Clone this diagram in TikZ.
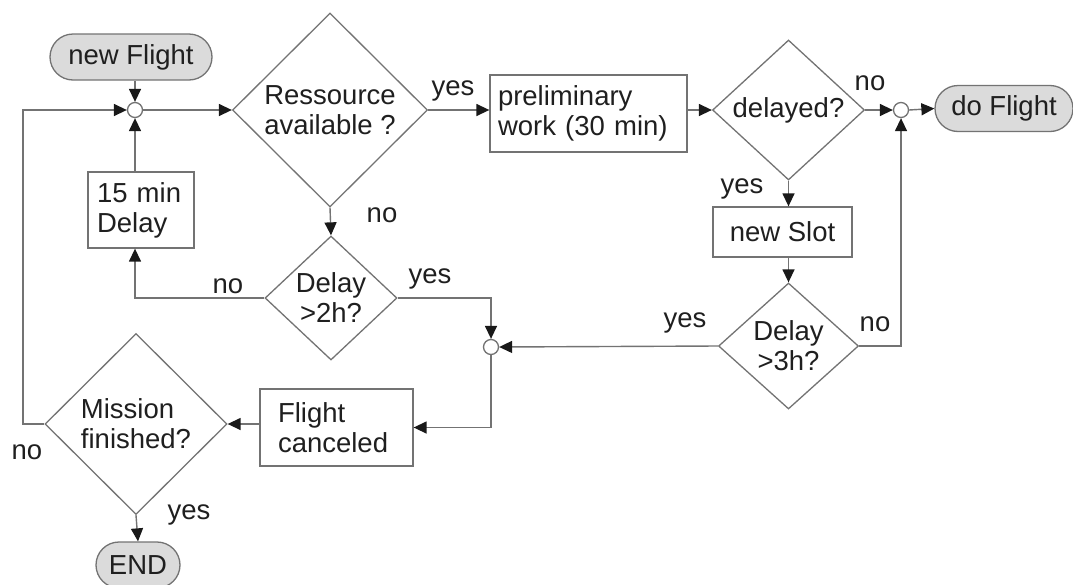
\documentclass[tikz,border=0pt]{standalone}
\usepackage{fontspec}
\setmainfont{Liberation Sans}
\usetikzlibrary{shapes.geometric,arrows.meta,calc}

\begin{document}
\begin{tikzpicture}[x=1pt,y=-1pt,
  font=\fontsize{27.5}{30}\selectfont,
  every node/.style={text=black!88},
  every label/.style={text=black!88},
  line/.style={draw=black!55, line width=1.4pt},
  flow/.style={line, -{Triangle[length=13pt,width=12pt,color=black!90]}},
  box/.style={rectangle, draw=black!55, line width=1.3pt, fill=white, inner sep=0pt},
  term/.style={rectangle, rounded corners=23pt, draw=black!55, line width=1.3pt, fill=black!14, inner sep=0pt},
  dia/.style={diamond, draw=black!55, line width=1.3pt, fill=white, inner sep=0pt},
  jn/.style={circle, draw=black!55, line width=1.3pt, fill=white, inner sep=0pt, minimum size=15pt},
  lbl/.style={anchor=base}]

% canvas
\useasboundingbox (0,0) rectangle (1073,584);

% upper row
\node[term, minimum width=162pt, minimum height=46pt] (newF) at (131,57) {new Flight};
\node[jn] (j1) at (135,110) {};
\node[dia, minimum width=195pt, minimum height=194pt,
      label={[align=center]center:Ressource\\available ?}] (res) at (330,110) {};
\node[box, minimum width=197pt, minimum height=77pt, text width=181pt, align=left] (pre) at (588.5,113.5) {preliminary\\work (30 min)};
\node[dia, minimum width=152pt, minimum height=140pt, label=center:delayed?] (dly) at (788.5,110) {};
\node[jn] (j2) at (901,110) {};
\node[term, minimum width=138pt, minimum height=46pt] (doF) at (1004,108.5) {do Flight};

% middle
\node[box, minimum width=106pt, minimum height=76pt, text width=88pt, align=left] (wait) at (141,210) {15 min\\Delay};
\node[dia, minimum width=132pt, minimum height=124pt,
      label={[align=center]center:Delay\\>2h?}] (d2) at (331,298) {};
\node[box, minimum width=139pt, minimum height=50pt] (slot) at (782.5,232) {new Slot};
\node[dia, minimum width=140pt, minimum height=126pt,
      label={[align=center]center:Delay\\>3h?}] (d3) at (788.5,346) {};
\node[jn] (j3) at (491,347) {};

% lower row
\node[box, minimum width=153pt, minimum height=77pt, text width=117pt, align=left] (fc) at (336.5,427.5) {Flight\\canceled};
\node[dia, minimum width=182pt, minimum height=181pt,
      label={[align=left]center:Mission\\finished?}] (mis) at (136,424) {};
\node[term, minimum width=84pt, minimum height=46pt] (end) at (138,565) {END};

% left return line
\coordinate (lc) at (23,0);

% connectors
\draw[flow] (newF.south -| j1) -- (j1.north);
\draw[flow] (j1.east) -- (res.west);
\draw[flow] (res.east) -- (res.east -| pre.west);
\draw[flow] (pre.east |- dly.west) -- (dly.west);
\draw[flow] (dly.east) -- (j2.west);
\draw[flow] (j2.east) -- (doF.west);
\draw[flow] (dly.south) -- (dly.south |- slot.north);
\draw[flow] (slot.south -| d3.north) -- (d3.north);
\draw[flow] (d3.east) -| (j2.south);
\draw[flow] (d3.west) -- (j3.east);
\draw[flow] (res.south) -- (d2.north);
\draw[flow] (d2.east) -| (j3.north);
\draw[flow] (d2.west) -| (j1 |- wait.south);
\draw[flow] (wait.north -| j1) -- (j1.south);
\draw[flow] (j3.south) |- (fc.east);
\draw[flow] (fc.west |- mis.east) -- (mis.east);
\draw[flow] (mis.west) -- (mis.west -| lc) |- (j1.west);
\draw[flow] (mis.south) -- (end.north);

% branch labels
\node[lbl] (t1) at (453,95) {yes};
\node[lbl] (t2) at (382,222) {no};
\node[lbl] (t3) at (228,293) {no};
\node[lbl] (t4) at (430,283) {yes};
\node[lbl] (t5) at (870,90) {no};
\node[lbl] (t6) at (742,193) {yes};
\node[lbl] (t7) at (685,327) {yes};
\node[lbl] (t8) at (875,331) {no};
\node[lbl] (t9) at (27,459) {no};
\node[lbl] (t10) at (189,519) {yes};
\end{tikzpicture}
\end{document}
